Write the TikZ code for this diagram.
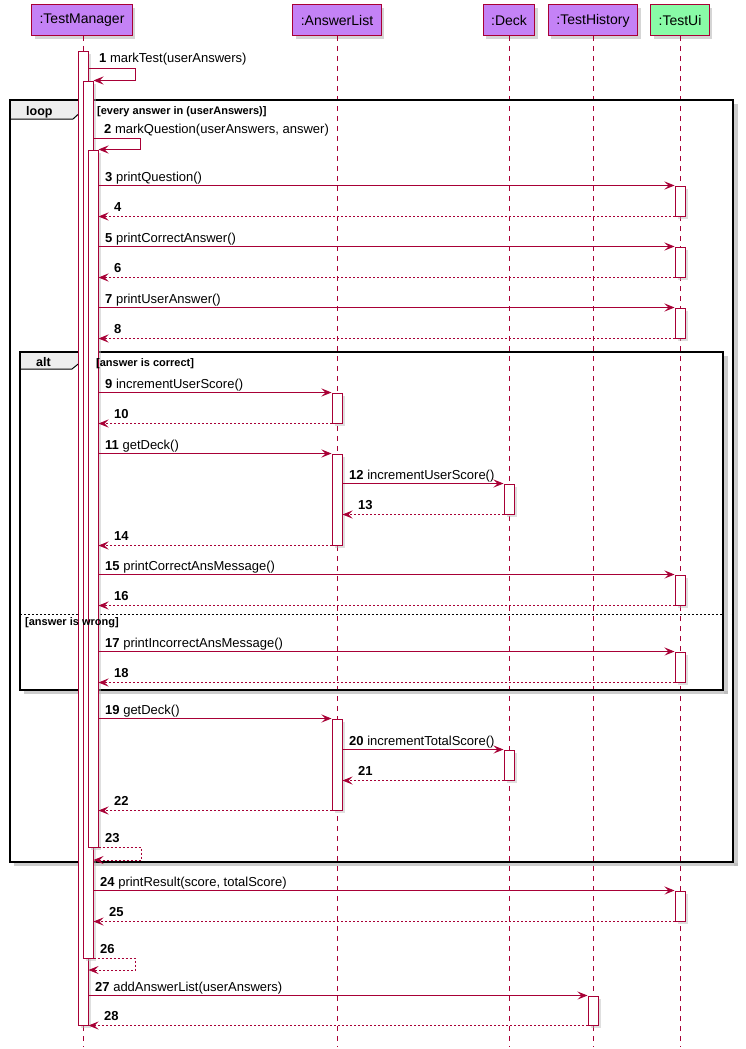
\documentclass[tikz,border=0pt]{standalone}
\usepackage{fontspec}
\setmainfont{Liberation Sans}
\usetikzlibrary{arrows.meta,shadows}

\definecolor{brd}{RGB}{168,0,54}
\definecolor{partfill}{RGB}{196,130,246}
\definecolor{uifill}{RGB}{137,251,167}
\definecolor{tabfill}{RGB}{238,238,238}
\definecolor{shade}{RGB}{185,185,185}

\tikzset{
  shadowed/.style={drop shadow={shadow xshift=3pt,shadow yshift=-3pt,fill=shade,opacity=.6}},
  part/.style={draw=brd,line width=1pt,fill=partfill,minimum height=31pt,inner xsep=8pt,
    font=\fontsize{14}{16}\selectfont,shadowed},
  lifeline/.style={draw=brd,line width=0.9pt,dash pattern=on 5pt off 5pt},
  actbar/.style={draw=brd,fill=white,line width=1pt,minimum width=10pt,inner sep=0pt,
    drop shadow={shadow xshift=2.5pt,shadow yshift=-2.5pt,fill=shade,opacity=.45}},
  msg/.style={draw=brd,line width=0.8pt,-{Stealth[length=10pt,width=8pt,inset=4pt]}},
  ret/.style={msg,dash pattern=on 2pt off 2pt},
  lbl/.style={anchor=base west,inner sep=0pt,font=\fontsize{13}{15}\selectfont},
  frameline/.style={draw=black,line width=1.7pt},
  tabshape/.style={draw=black,line width=1pt,fill=tabfill},
  tabtext/.style={anchor=base west,inner sep=0pt,font=\fontsize{12.5}{14}\selectfont\bfseries},
  cond/.style={anchor=base west,inner sep=0pt,font=\fontsize{11}{13}\selectfont\bfseries},
  fshadow/.style={fill=shade,opacity=.7},
}

% activation bar: name, x, top, bottom
\newcommand\actbar[4]{\node[actbar,minimum height={#4-#3}] (#1) at (#2,{-(#3+#4)/2}) {};}
% message label: name, x, baseline, text
\newcommand\mlabel[4]{\node[lbl] (#1) at (#2,-#3) {#4};}

\begin{document}
\begin{tikzpicture}[x=1pt,y=1pt]
\useasboundingbox (0,0) rectangle (745,-1049);
\fill[white] (0,0) rectangle (745,-1049);

% participants
\node[part] (tmP) at (82,-20.5) {:TestManager};
\node[part] (alP) at (337,-20.5) {:AnswerList};
\node[part] (dkP) at (509,-20.5) {:Deck};
\node[part] (thP) at (593,-20.5) {:TestHistory};
\node[part,fill=uifill] (uiP) at (680,-20.5) {:TestUi};

% lifelines
\foreach \p/\x in {tm/83,al/337,dk/509,th/593,ui/680}{
  \coordinate (\p End) at (\x,-1047);
  \draw[lifeline] (\x,-36) -- (\p End);
}

% loop frame
\fill[fshadow] (734,-104) rectangle (738,-866);
\fill[fshadow] (14,-863) rectangle (738,-866);
\draw[tabshape] (10,-100) -- (83,-100) -- (83,-110) -- (73,-119) -- (10,-119) -- cycle;
\draw[frameline] (10,-100) rectangle (733,-862);
\node[tabtext] (loopT) at (26,-115) {loop};

% alt frame
\fill[fshadow] (724,-356) rectangle (728,-694);
\fill[fshadow] (24,-691) rectangle (728,-694);
\draw[tabshape] (20,-352) -- (82,-352) -- (82,-361) -- (72,-369) -- (20,-369) -- cycle;
\draw[frameline] (20,-352) rectangle (723,-690);
\node[tabtext] (altT) at (36,-366) {alt};
\draw[black,line width=0.7pt,dash pattern=on 2pt off 2pt] (20,-614) -- (723,-614);

% activation bars
\actbar{tm1}{83}{52}{1025}
\actbar{tm2}{88}{81}{958}
\actbar{tm3}{93}{150}{847}
\actbar{ui1}{680}{186}{216}
\actbar{ui2}{680}{247}{277}
\actbar{ui3}{680}{308}{338}
\actbar{al1}{337}{393}{423}
\actbar{al2}{337}{454}{545}
\actbar{dk1}{509}{484}{514}
\actbar{ui4}{680}{575}{605}
\actbar{ui5}{680}{652}{682}
\actbar{al3}{337}{719}{810}
\actbar{dk2}{509}{750}{780}
\actbar{ui6}{680}{891}{921}
\actbar{th1}{593}{996}{1025}

% guard conditions
\node[cond] (loopC) at (97,-114) {[every answer in (userAnswers)]};
\node[cond] (altC1) at (96,-366) {[answer is correct]};
\node[cond] (altC2) at (25,-625) {[answer is wrong]};

% self calls
\draw[msg] (tm1.east |- 0,-68) -- ++(47,0) |- (tm2.north east);
\draw[msg] (tm2.east |- 0,-138) -- ++(47,0) |- (tm3.north east);

% calls and returns
\foreach \s/\t in {tm3/ui1,tm3/ui2,tm3/ui3,tm3/al1,tm3/al2,al2/dk1,tm3/ui4,tm3/ui5,tm3/al3,al3/dk2,tm2/ui6,tm1/th1}{
  \draw[msg] (\s.east |- \t.north west) -- (\t.north west);
  \draw[ret] (\t.south west) -- (\s.east |- \t.south west);
}

% self returns
\draw[ret] (tm3.south east) -- ++(43,0) |- (tm2.east |- 0,-860);
\draw[ret] (tm2.south east) -- ++(42,0) |- (tm1.east |- 0,-970);

% labels
\mlabel{m1}{99}{63}{\textbf{1} markTest(userAnswers)}
\mlabel{m2}{104}{133}{\textbf{2} markQuestion(userAnswers, answer)}
\mlabel{m3}{105}{181}{\textbf{3} printQuestion()}
\mlabel{m4}{114}{211}{\textbf{4}}
\mlabel{m5}{105}{242}{\textbf{5} printCorrectAnswer()}
\mlabel{m6}{114}{272}{\textbf{6}}
\mlabel{m7}{105}{303}{\textbf{7} printUserAnswer()}
\mlabel{m8}{114}{333}{\textbf{8}}
\mlabel{m9}{105}{388}{\textbf{9} incrementUserScore()}
\mlabel{m10}{114}{418}{\textbf{10}}
\mlabel{m11}{105}{449}{\textbf{11} getDeck()}
\mlabel{m12}{349}{479}{\textbf{12} incrementUserScore()}
\mlabel{m13}{358}{509}{\textbf{13}}
\mlabel{m14}{114}{540}{\textbf{14}}
\mlabel{m15}{105}{570}{\textbf{15} printCorrectAnsMessage()}
\mlabel{m16}{114}{600}{\textbf{16}}
\mlabel{m17}{105}{647}{\textbf{17} printIncorrectAnsMessage()}
\mlabel{m18}{114}{677}{\textbf{18}}
\mlabel{m19}{105}{714}{\textbf{19} getDeck()}
\mlabel{m20}{349}{745}{\textbf{20} incrementTotalScore()}
\mlabel{m21}{358}{775}{\textbf{21}}
\mlabel{m22}{114}{805}{\textbf{22}}
\mlabel{m23}{105}{842}{\textbf{23}}
\mlabel{m24}{100}{886}{\textbf{24} printResult(score, totalScore)}
\mlabel{m25}{109}{916}{\textbf{25}}
\mlabel{m26}{100}{953}{\textbf{26}}
\mlabel{m27}{95}{991}{\textbf{27} addAnswerList(userAnswers)}
\mlabel{m28}{104}{1020}{\textbf{28}}
\end{tikzpicture}
\end{document}
